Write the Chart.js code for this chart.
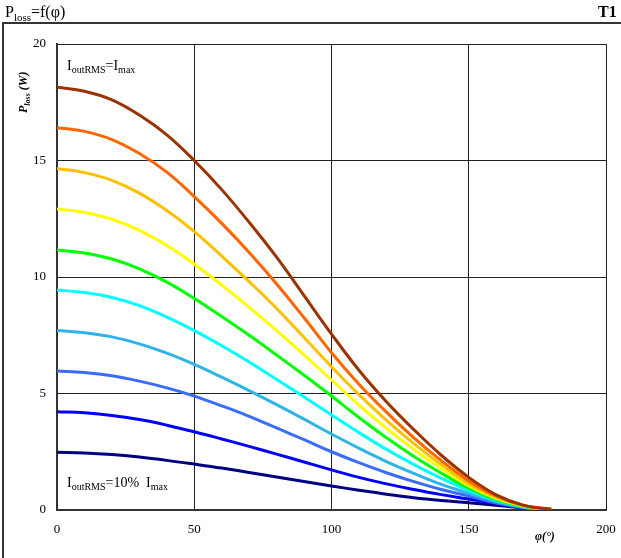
<!DOCTYPE html>
<html>
<head>
<meta charset="utf-8">
<title>Ploss = f(phi)</title>
<script src="https://cdn.jsdelivr.net/npm/chart.js@4.4.1/dist/chart.umd.min.js"></script>
<style>
  html, body { margin: 0; padding: 0; background: #fff; }
  canvas { display: block; }
</style>
</head>
<body>
<canvas id="chartPloss" width="621" height="558"></canvas>
<script>
// phase angle (deg)
const phi = [0, 10, 20, 30, 40, 50, 60, 70, 80, 90, 100, 110, 120, 130, 140, 150, 160, 170, 180];

// power loss (W), from I = Imax down to I = 10% Imax
const loss100 = [18.14, 17.97, 17.60, 16.95, 16.10, 15.00, 13.75, 12.35, 10.85, 9.20, 7.55, 6.00, 4.65, 3.45, 2.35, 1.40, 0.65, 0.20, 0.03];
const loss90  = [16.41, 16.25, 15.90, 15.30, 14.50, 13.45, 12.30, 11.05, 9.70, 8.25, 6.75, 5.40, 4.20, 3.10, 2.12, 1.25, 0.60, 0.20, 0.03];
const loss80  = [14.66, 14.48, 14.15, 13.60, 12.85, 11.95, 10.90, 9.80, 8.65, 7.40, 6.15, 4.95, 3.85, 2.85, 1.95, 1.12, 0.55, 0.18, 0.03];
const loss70  = [12.92, 12.77, 12.48, 12.00, 11.35, 10.55, 9.65, 8.70, 7.70, 6.65, 5.58, 4.50, 3.50, 2.60, 1.78, 1.03, 0.50, 0.17, 0.03];
const loss60  = [11.16, 11.03, 10.77, 10.35, 9.78, 9.08, 8.30, 7.50, 6.65, 5.78, 4.89, 3.97, 3.10, 2.30, 1.58, 0.93, 0.45, 0.15, 0.02];
const loss50  = [9.44, 9.33, 9.12, 8.77, 8.28, 7.70, 7.05, 6.35, 5.60, 4.85, 4.08, 3.32, 2.60, 1.95, 1.36, 0.83, 0.41, 0.14, 0.02];
const loss40  = [7.70, 7.61, 7.43, 7.13, 6.73, 6.25, 5.70, 5.12, 4.52, 3.90, 3.26, 2.65, 2.08, 1.57, 1.10, 0.72, 0.36, 0.12, 0.02];
const loss30  = [5.97, 5.90, 5.76, 5.53, 5.24, 4.89, 4.47, 4.02, 3.52, 3.02, 2.50, 2.03, 1.60, 1.22, 0.88, 0.60, 0.30, 0.10, 0.01];
const loss20  = [4.22, 4.17, 4.06, 3.88, 3.64, 3.36, 3.05, 2.73, 2.40, 2.06, 1.72, 1.40, 1.12, 0.88, 0.66, 0.47, 0.28, 0.10, 0.01];
const loss10  = [2.48, 2.45, 2.38, 2.27, 2.13, 1.97, 1.80, 1.61, 1.42, 1.22, 1.03, 0.85, 0.68, 0.53, 0.41, 0.31, 0.20, 0.09, 0.01];

const lossSeries = [loss100, loss90, loss80, loss70, loss60, loss50, loss40, loss30, loss20, loss10];
const lineColors = ['#993300', '#ff6600', '#ffc000', '#ffff00', '#00ff00', '#00ffff', '#2fb4ea', '#3a6cff', '#0000ff', '#000080'];

const xTicks = [0, 50, 100, 150, 200];
const yTicks = [0, 5, 10, 15, 20];

const SERIF = '"Liberation Serif", "DejaVu Serif", serif';

// text with optional subscript parts, drawn left to right
function drawRich(ctx, x, y, parts, size, style) {
    parts.forEach(p => {
        const s = p.sub ? Math.round(size * 0.7) : size;
        ctx.font = `${style || ''} ${s}px ${SERIF}`;
        ctx.fillText(p.t, x, y + (p.sub ? size * 0.22 : 0));
        x += ctx.measureText(p.t).width;
    });
}

const decorPlugin = {
    id: 'decor',
    afterDraw(chart) {
        const ctx = chart.ctx;
        ctx.save();
        ctx.fillStyle = '#000';
        ctx.textBaseline = 'alphabetic';
        ctx.textAlign = 'left';

        // page header
        drawRich(ctx, 5, 17, [{ t: 'P' }, { t: 'loss', sub: true }, { t: '=f(φ)' }], 16, '');
        ctx.font = `bold 16px ${SERIF}`;
        ctx.fillText('T1', 598, 17);

        // outer frame
        ctx.strokeStyle = '#333';
        ctx.lineWidth = 2;
        ctx.beginPath();
        ctx.moveTo(3, 558);
        ctx.lineTo(3, 23);
        ctx.lineTo(621, 23);
        ctx.stroke();

        // curve labels
        drawRich(ctx, 67, 70, [{ t: 'I' }, { t: 'outRMS', sub: true }, { t: '=I' }, { t: 'max', sub: true }], 14, '');
        drawRich(ctx, 67, 487, [{ t: 'I' }, { t: 'outRMS', sub: true }, { t: '=10%  I' }, { t: 'max', sub: true }], 14, '');

        // axis titles
        ctx.save();
        ctx.translate(27, 113);
        ctx.rotate(-Math.PI / 2);
        drawRich(ctx, 0, 0, [{ t: 'P' }, { t: 'loss', sub: true }, { t: ' (W)' }], 12, 'italic bold');
        ctx.restore();

        drawRich(ctx, 535, 540, [{ t: 'φ(°)' }], 12, 'italic bold');
        ctx.restore();
    }
};

const ctx = document.getElementById('chartPloss').getContext('2d');
const chartPloss = new Chart(ctx, {
    type: 'line',
    data: {
        datasets: lossSeries.map((vals, i) => ({
            data: phi.map((x, j) => ({ x: x, y: vals[j] })),
            borderColor: lineColors[i],
            backgroundColor: lineColors[i],
            borderWidth: 3,
            pointRadius: 0,
            fill: false,
            tension: 0.4
        }))
    },
    options: {
        responsive: false,
        animation: false,
        layout: { padding: { top: 44, right: 15, left: 0, bottom: 0 } },
        plugins: {
            legend: { display: false },
            tooltip: { enabled: false }
        },
        scales: {
            x: {
                type: 'linear',
                min: 0,
                max: 200,
                afterBuildTicks: axis => { axis.ticks = xTicks.map(v => ({ value: v })); },
                afterFit: axis => {
                    axis.height = 48;
                    axis.paddingLeft = 0;
                    axis.paddingRight = 0;
                },
                grid: { color: '#222', lineWidth: 1, drawTicks: false },
                border: { color: '#333', width: 2 },
                ticks: { color: '#000', padding: 12, font: { family: SERIF, size: 13 } }
            },
            y: {
                min: 0,
                max: 20,
                afterBuildTicks: axis => { axis.ticks = yTicks.map(v => ({ value: v })); },
                afterFit: axis => {
                    axis.width = 57;
                    axis.paddingTop = 0;
                    axis.paddingBottom = 0;
                },
                grid: { color: '#222', lineWidth: 1, drawTicks: false },
                border: { color: '#333', width: 2 },
                ticks: { color: '#000', padding: 11, font: { family: SERIF, size: 13 } }
            }
        }
    },
    plugins: [decorPlugin]
});
</script>
</body>
</html>
